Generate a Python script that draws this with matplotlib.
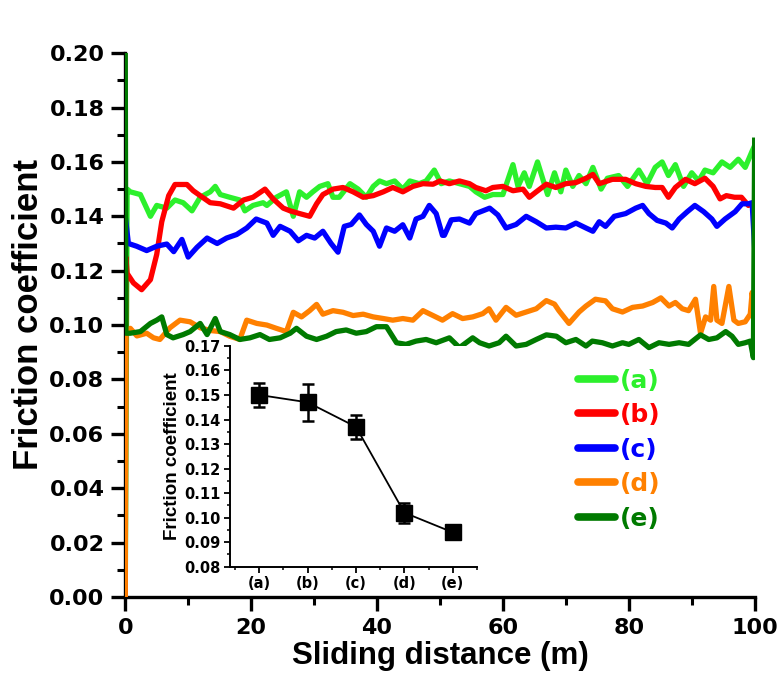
import matplotlib
matplotlib.use("Agg")
import matplotlib.pyplot as plt
from matplotlib.ticker import MultipleLocator, FormatStrFormatter
from matplotlib.lines import Line2D

plt.rcParams['font.family'] = ['DejaVu Sans']
TITLE_FONT = ['Liberation Sans', 'DejaVu Sans']

# ---------------- data ----------------
a_x = [0, 0.3, 0.8, 2.4, 4.0, 5.0, 6.6, 7.9, 9.2, 10.6,
       11.9, 13.5, 14.3, 15.1, 16.6, 18.2, 19.0, 20.3, 21.9, 22.5,
       24.0, 25.6, 26.7, 27.7, 28.8, 29.8, 30.9, 32.2, 33.0, 34.0,
       35.7, 37.0, 38.3, 39.4, 40.4, 41.5, 42.8, 44.1, 45.2, 46.7,
       47.8, 49.1, 50.2, 51.5, 53.1, 54.7, 55.7, 57.1, 58.4, 60.0,
       61.6, 62.4, 63.4, 64.2, 65.5, 66.3, 67.1, 68.2, 69.2, 70.0,
       71.1, 72.1, 73.2, 74.3, 75.6, 76.6, 78.4, 79.8, 81.6, 82.9,
       84.2, 85.3, 86.3, 87.4, 88.7, 90.0, 91.1, 92.1, 93.4, 94.8,
       96.1, 97.4, 98.5, 99.6, 100.0]
a_y = [0.000, 0.150, 0.149, 0.148, 0.140, 0.144, 0.143, 0.146, 0.145, 0.142,
       0.147, 0.149, 0.151, 0.148, 0.147, 0.146, 0.142, 0.144, 0.145, 0.144,
       0.147, 0.149, 0.140, 0.149, 0.147, 0.149, 0.151, 0.152, 0.147, 0.147,
       0.152, 0.150, 0.147, 0.151, 0.153, 0.152, 0.153, 0.150, 0.153, 0.152,
       0.153, 0.157, 0.152, 0.153, 0.152, 0.151, 0.149, 0.147, 0.148, 0.148,
       0.159, 0.151, 0.156, 0.151, 0.160, 0.154, 0.148, 0.156, 0.149, 0.157,
       0.151, 0.155, 0.152, 0.158, 0.150, 0.154, 0.155, 0.151, 0.157, 0.152,
       0.158, 0.160, 0.155, 0.159, 0.151, 0.156, 0.153, 0.157, 0.156, 0.160,
       0.158, 0.161, 0.158, 0.164, 0.166]

b_x = [0, 0.1, 0.3, 1.3, 2.6, 4.0, 5.0, 5.8, 6.9, 7.9,
       9.8, 10.8, 11.9, 13.5, 15.1, 17.2, 18.8, 20.3, 22.2, 23.5,
       25.1, 26.2, 27.7, 29.3, 30.4, 31.4, 33.0, 34.6, 36.2, 37.8,
       39.4, 41.0, 42.5, 44.1, 45.7, 47.3, 48.9, 50.0, 51.5, 53.1,
       54.7, 55.7, 57.3, 58.4, 60.0, 61.6, 63.2, 64.2, 65.3, 66.9,
       68.4, 70.0, 71.6, 73.2, 74.3, 75.3, 77.4, 79.5, 81.1, 82.7,
       84.2, 85.3, 86.3, 87.4, 89.0, 90.5, 92.1, 93.4, 94.5, 95.5,
       96.8, 97.9, 99.0, 100.0]
b_y = [0.000, 0.125, 0.119, 0.1155, 0.1130, 0.1167, 0.126, 0.138, 0.1476, 0.1517,
       0.1517, 0.1494, 0.1476, 0.145, 0.1446, 0.143, 0.146, 0.147, 0.1500, 0.1464,
       0.143, 0.142, 0.1410, 0.140, 0.1446, 0.148, 0.150, 0.1506, 0.149, 0.147,
       0.1476, 0.149, 0.1506, 0.149, 0.151, 0.152, 0.1518, 0.153, 0.152, 0.153,
       0.152, 0.1506, 0.1494, 0.1506, 0.151, 0.1494, 0.150, 0.147, 0.149, 0.1518,
       0.1506, 0.152, 0.1524, 0.154, 0.1554, 0.152, 0.1536, 0.1536, 0.152, 0.151,
       0.1506, 0.1506, 0.147, 0.1506, 0.1536, 0.152, 0.154, 0.151, 0.1464, 0.1476,
       0.147, 0.147, 0.144, 0.145]

c_x = [0, 0.5, 1.8, 3.4, 5.0, 6.6, 7.7, 9.0, 10.0, 11.4,
       13.0, 14.6, 16.1, 17.7, 19.3, 20.8, 22.5, 23.5, 24.6, 26.2,
       27.5, 28.8, 30.1, 31.4, 32.7, 33.8, 34.8, 35.9, 37.2, 38.3,
       39.4, 40.4, 41.5, 42.8, 44.1, 45.2, 46.2, 47.3, 48.3, 49.4,
       50.4, 50.7, 51.8, 53.1, 54.7, 55.7, 56.8, 57.9, 59.2, 60.5,
       62.1, 63.7, 65.3, 66.9, 68.4, 70.0, 71.6, 73.2, 74.3, 75.3,
       76.3, 77.7, 79.5, 81.1, 82.2, 83.2, 84.5, 85.9, 86.9, 88.0,
       89.3, 90.5, 91.9, 93.2, 94.0, 95.3, 96.9, 98.0, 99.0, 99.6,
       100.0]
c_y = [0.140, 0.130, 0.129, 0.1274, 0.129, 0.1298, 0.127, 0.1315, 0.125, 0.1286,
       0.132, 0.130, 0.132, 0.1333, 0.1357, 0.139, 0.1375, 0.133, 0.1363, 0.1345,
       0.131, 0.133, 0.132, 0.1345, 0.130, 0.1268, 0.1363, 0.137, 0.1405, 0.137,
       0.1345, 0.129, 0.1357, 0.1345, 0.1369, 0.132, 0.139, 0.140, 0.144, 0.141,
       0.133, 0.133, 0.1387, 0.139, 0.1375, 0.141, 0.142, 0.143, 0.1405, 0.1357,
       0.137, 0.140, 0.138, 0.1357, 0.136, 0.1357, 0.1375, 0.1357, 0.1345, 0.138,
       0.1363, 0.140, 0.141, 0.143, 0.144, 0.141, 0.1385, 0.1375, 0.1357, 0.139,
       0.1417, 0.144, 0.1417, 0.139, 0.1363, 0.139, 0.1417, 0.1446, 0.1446, 0.145,
       0.128]

d_x = [0, 0.1, 0.8, 1.85, 3.4, 4.5, 5.5, 7.1, 8.7, 10.3,
       11.9, 13.5, 15.1, 16.6, 18.2, 19.3, 20.9, 22.5, 24.0, 25.6,
       26.7, 28.0, 29.3, 30.4, 31.4, 33.0, 34.6, 36.2, 37.8, 39.4,
       41.0, 42.5, 44.1, 45.7, 47.3, 48.9, 50.4, 52.0, 53.6, 55.2,
       56.8, 57.8, 58.9, 60.5, 62.1, 63.7, 65.3, 66.9, 68.2, 68.9,
       70.5, 72.1, 73.2, 74.7, 76.3, 77.4, 79.0, 80.6, 82.2, 83.8,
       85.1, 86.4, 87.4, 88.5, 89.5, 90.6, 91.4, 92.2, 93.0, 93.5,
       94.0, 94.8, 95.9, 96.7, 97.4, 98.5, 99.3, 99.6, 100.0]
d_y = [0.000, 0.097, 0.0988, 0.096, 0.097, 0.0953, 0.0947, 0.099, 0.1018, 0.1012,
       0.099, 0.098, 0.0976, 0.0959, 0.0947, 0.1018, 0.1006, 0.100, 0.0988, 0.0976,
       0.1047, 0.103, 0.1053, 0.1076, 0.104, 0.1053, 0.1047, 0.1035, 0.104, 0.103,
       0.1024, 0.1018, 0.1024, 0.1018, 0.1053, 0.1035, 0.1018, 0.1042, 0.1024, 0.103,
       0.1042, 0.106, 0.1018, 0.1065, 0.1036, 0.1048, 0.106, 0.109, 0.1077, 0.1053,
       0.1006, 0.1048, 0.107, 0.1095, 0.1089, 0.106, 0.1048, 0.1065, 0.107, 0.1083,
       0.110, 0.107, 0.1083, 0.106, 0.1053, 0.1095, 0.097, 0.103, 0.1018, 0.1142,
       0.1018, 0.1006, 0.1142, 0.1018, 0.1006, 0.1012, 0.104, 0.112, 0.104]

e_x = [0, 0.1, 0.8, 2.4, 4.0, 5.0, 5.8, 6.6, 7.6, 9.2,
       10.3, 11.9, 13.0, 14.3, 15.1, 16.6, 18.2, 19.8, 21.4, 22.9,
       24.6, 26.2, 27.2, 28.8, 30.4, 32.0, 33.5, 35.1, 36.7, 38.3,
       39.9, 41.5, 43.1, 44.6, 46.2, 47.8, 49.4, 51.5, 53.1, 55.2,
       56.3, 57.8, 59.4, 60.5, 62.1, 63.7, 65.3, 66.9, 68.5, 70.0,
       71.6, 73.2, 74.2, 75.8, 77.4, 79.0, 80.0, 81.6, 83.2, 84.8,
       86.4, 88.0, 89.5, 91.4, 92.7, 94.0, 95.4, 96.4, 97.4, 98.5,
       99.3, 99.8, 100.0]
e_y = [0.200, 0.097, 0.097, 0.0976, 0.1006, 0.1018, 0.103, 0.0965, 0.0953, 0.0965,
       0.0976, 0.1006, 0.0965, 0.1024, 0.0976, 0.0965, 0.0947, 0.0953, 0.0965, 0.0947,
       0.0953, 0.0970, 0.0988, 0.0959, 0.0947, 0.0959, 0.0976, 0.0982, 0.0970, 0.0976,
       0.0994, 0.0994, 0.0935, 0.0929, 0.0941, 0.0947, 0.0935, 0.0953, 0.0917, 0.0953,
       0.0935, 0.0923, 0.0935, 0.0959, 0.0923, 0.0929, 0.0947, 0.0964, 0.0959, 0.0935,
       0.0947, 0.0923, 0.0941, 0.0935, 0.0923, 0.0935, 0.0929, 0.0947, 0.0917, 0.0935,
       0.0929, 0.0935, 0.0929, 0.0964, 0.0947, 0.0953, 0.0976, 0.0959, 0.0929, 0.0935,
       0.0941, 0.088, 0.168]

series_labels = ['(a)', '(b)', '(c)', '(d)', '(e)']
series_colors = ['#2CF02C', '#FF0000', '#0000FF', '#FF8000', '#007A00']

inset_categories = ['(a)', '(b)', '(c)', '(d)', '(e)']
inset_values = [0.150, 0.147, 0.137, 0.102, 0.094]
inset_errors = [0.005, 0.0075, 0.0048, 0.004, 0.0015]

# ---------------- figure ----------------
fig = plt.figure(figsize=(7.78, 6.73), dpi=100)
ax = fig.add_axes([0.161, 0.113, 0.809, 0.808])

xs = [a_x, b_x, c_x, d_x, e_x]
ys = [a_y, b_y, c_y, d_y, e_y]
for x, y, lab, col in zip(xs, ys, series_labels, series_colors):
    ax.plot(x, y, color=col, lw=3.8, label=lab, solid_joinstyle='round', zorder=3)

ax.set_xlim(0, 100)
ax.set_ylim(0, 0.20)
ax.xaxis.set_major_locator(MultipleLocator(20))
ax.xaxis.set_minor_locator(MultipleLocator(10))
ax.yaxis.set_major_locator(MultipleLocator(0.02))
ax.yaxis.set_minor_locator(MultipleLocator(0.01))
ax.yaxis.set_major_formatter(FormatStrFormatter('%.2f'))
for s in ['top', 'right']:
    ax.spines[s].set_visible(False)
for s in ['left', 'bottom']:
    ax.spines[s].set_linewidth(2.4)
ax.tick_params(which='major', direction='out', length=10, width=2.4, labelsize=16, pad=5)
ax.tick_params(which='minor', direction='out', length=6, width=2.2)
for t in ax.get_xticklabels() + ax.get_yticklabels():
    t.set_fontweight('bold')
ax.set_xlabel('Sliding distance (m)', fontsize=22.5, fontweight='bold',
              family=TITLE_FONT, labelpad=2)
ax.set_ylabel('Friction coefficient', fontsize=25, fontweight='bold',
              family=TITLE_FONT)
ax.yaxis.set_label_coords(-0.128, 0.52)

handles = [Line2D([0], [0], color=c, lw=5.5, solid_capstyle='round') for c in series_colors]
leg = ax.legend(handles, series_labels, loc='upper left', bbox_to_anchor=(0.72, 0.42),
                frameon=False, borderaxespad=0, borderpad=0,
                handlelength=1.45, handletextpad=0.2, labelspacing=0.42,
                prop={'weight': 'bold', 'size': 18}, labelcolor=series_colors)

# ---------------- inset ----------------
ins = fig.add_axes([0.296, 0.158, 0.317, 0.328])
pos = list(range(1, len(inset_categories) + 1))
ins.plot(pos, inset_values, color='black', lw=1.3, zorder=1)
ins.errorbar(pos, inset_values, yerr=inset_errors, fmt='s', color='black',
             ms=11, capsize=4, elinewidth=1.8, capthick=1.8, zorder=2)
ins.set_xlim(0.4, 5.5)
ins.set_ylim(0.08, 0.17)
ins.set_xticks(pos)
ins.set_xticklabels(inset_categories)
ins.xaxis.set_minor_locator(MultipleLocator(0.5))
ins.yaxis.set_major_locator(MultipleLocator(0.01))
ins.yaxis.set_minor_locator(MultipleLocator(0.005))
ins.yaxis.set_major_formatter(FormatStrFormatter('%.2f'))
for s in ['top', 'right']:
    ins.spines[s].set_visible(False)
for s in ['left', 'bottom']:
    ins.spines[s].set_linewidth(1.4)
ins.tick_params(which='major', direction='out', length=4, width=1.3, labelsize=10.5, pad=3)
ins.tick_params(which='minor', direction='out', length=2.5, width=1.1)
for t in ins.get_xticklabels() + ins.get_yticklabels():
    t.set_fontweight('bold')
ins.set_ylabel('Friction coefficient', fontsize=13.5, fontweight='bold',
               family=TITLE_FONT, labelpad=2)

fig.savefig('out.png', dpi=100)
